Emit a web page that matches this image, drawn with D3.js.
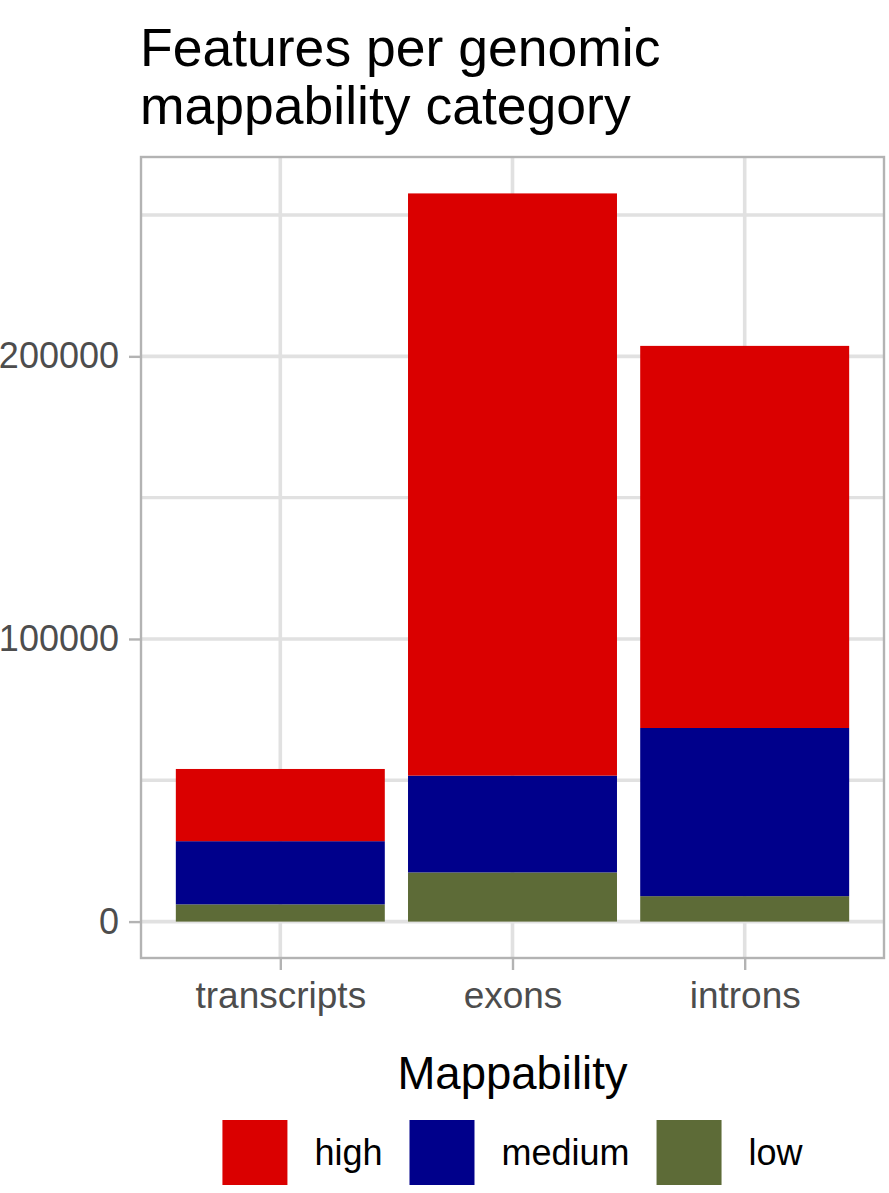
<!DOCTYPE html>
<html>
<head>
<meta charset="utf-8">
<script src="https://cdn.jsdelivr.net/npm/d3@7"></script>
<style>
  body { margin: 0; background: #ffffff; }
  svg text { font-family: "Liberation Sans", Arial, Helvetica, sans-serif; }
</style>
</head>
<body>
<div id="chart"></div>
<script>
// Data
var categories = ["transcripts", "exons", "introns"];
var lowValues = [6100, 17400, 9000];
var mediumValues = [22350, 34250, 59500];
var highValues = [25550, 206000, 135200];

var yTicks = [0, 100000, 200000];
var yMinorTicks = [50000, 150000, 250000];

var seriesKeys = ["low", "medium", "high"];
var legendKeys = ["high", "medium", "low"];
var colors = {high: "#da0000", medium: "#00008b", low: "#5d6b37"};

var width = 889, height = 1193;

// Panel bounds (ggplot theme_bw look)
var panel = {left: 141, right: 884, top: 157, bottom: 958};

var svg = d3.select("#chart")
            .append("svg")
            .attr("width", width)
            .attr("height", height);

// Build table for d3.stack
var table = categories.map(function(c, i) {
  return {category: c, low: lowValues[i], medium: mediumValues[i], high: highValues[i]};
});

var stacked = d3.stack().keys(seriesKeys)(table);

var maxTotal = d3.max(table, function(d) { return d.low + d.medium + d.high; });
var pad = maxTotal * 0.05;

// Scales
var xScale = d3.scaleLinear()
  .domain([0.4, categories.length + 0.6])
  .range([panel.left, panel.right]);

var yScale = d3.scaleLinear()
  .domain([-pad, maxTotal + pad])
  .range([panel.bottom, panel.top]);

var gridColor = "#e1e1e1";

// Minor gridlines
svg.append("g")
   .selectAll("line")
   .data(yMinorTicks)
   .enter()
   .append("line")
   .attr("x1", panel.left).attr("x2", panel.right)
   .attr("y1", function(d) { return yScale(d); })
   .attr("y2", function(d) { return yScale(d); })
   .style("stroke", gridColor)
   .style("stroke-width", 3.4);

// Major gridlines
svg.append("g")
   .selectAll("line")
   .data(yTicks)
   .enter()
   .append("line")
   .attr("x1", panel.left).attr("x2", panel.right)
   .attr("y1", function(d) { return yScale(d); })
   .attr("y2", function(d) { return yScale(d); })
   .style("stroke", gridColor)
   .style("stroke-width", 3.6);

svg.append("g")
   .selectAll("line")
   .data(categories)
   .enter()
   .append("line")
   .attr("x1", function(d, i) { return xScale(i + 1); })
   .attr("x2", function(d, i) { return xScale(i + 1); })
   .attr("y1", panel.top).attr("y2", panel.bottom)
   .style("stroke", gridColor)
   .style("stroke-width", 3.6);

// Bars
var barHalf = 0.45;
svg.append("g")
   .selectAll("g")
   .data(stacked)
   .enter()
   .append("g")
   .style("fill", function(d) { return colors[d.key]; })
   .selectAll("rect")
   .data(function(d) { return d; })
   .enter()
   .append("rect")
   .attr("x", function(d, i) { return xScale(i + 1 - barHalf); })
   .attr("width", function(d, i) { return xScale(i + 1 + barHalf) - xScale(i + 1 - barHalf); })
   .attr("y", function(d) { return yScale(d[1]); })
   .attr("height", function(d) { return yScale(d[0]) - yScale(d[1]); });

// Panel border
svg.append("rect")
   .attr("x", panel.left)
   .attr("y", panel.top)
   .attr("width", panel.right - panel.left)
   .attr("height", panel.bottom - panel.top)
   .style("fill", "none")
   .style("stroke", "#b3b3b3")
   .style("stroke-width", 2.4);

// Y axis
var yAxis = d3.axisLeft(yScale)
              .tickValues(yTicks)
              .tickSize(12)
              .tickPadding(10)
              .tickFormat(function(d) { return d; });

var yAxisGroup = svg.append("g")
   .attr("transform", "translate(" + panel.left + ",0)")
   .call(yAxis);

// X axis
var xAxis = d3.axisBottom(xScale)
              .tickValues(categories.map(function(d, i) { return i + 1; }))
              .tickSize(12)
              .tickPadding(12)
              .tickFormat(function(d) { return categories[d - 1]; });

var xAxisGroup = svg.append("g")
   .attr("transform", "translate(0," + panel.bottom + ")")
   .call(xAxis);

[yAxisGroup, xAxisGroup].forEach(function(g) {
  g.select(".domain").remove();
  g.selectAll(".tick line").style("stroke", "#b3b3b3").style("stroke-width", 2.4);
  g.selectAll(".tick text")
   .style("font-size", "37px")
   .style("fill", "#4d4d4d");
});
// y labels in the reference run off the left edge slightly
yAxisGroup.selectAll(".tick text").style("font-size", "36px");

// Title
var title = svg.append("text")
   .attr("x", panel.left - 1)
   .attr("y", 66)
   .style("font-size", "53.5px")
   .style("fill", "#000");
title.append("tspan").attr("x", panel.left - 1).text("Features per genomic");
title.append("tspan").attr("x", panel.left - 1).attr("dy", 58).text("mappability category");

// Legend
var panelMid = (panel.left + panel.right) / 2;

svg.append("text")
   .attr("x", panelMid)
   .attr("y", 1089)
   .attr("text-anchor", "middle")
   .style("font-size", "45.5px")
   .style("fill", "#000")
   .text("Mappability");

var keySize = 65, labelGap = 27, itemGap = 27;
var legend = svg.append("g");
var items = legend.selectAll("g")
   .data(legendKeys)
   .enter()
   .append("g");

items.append("rect")
   .attr("width", keySize)
   .attr("height", keySize)
   .style("fill", function(d) { return colors[d]; });

items.append("text")
   .attr("x", keySize + labelGap)
   .attr("y", keySize / 2)
   .attr("dy", "0.35em")
   .style("font-size", "36px")
   .style("fill", "#000")
   .text(function(d) { return d; });

var xPos = 0;
items.each(function() {
  var g = d3.select(this);
  var w = keySize + labelGap + g.select("text").node().getComputedTextLength();
  g.attr("transform", "translate(" + xPos + ",0)");
  xPos += w + itemGap;
});
var totalW = xPos - itemGap;
legend.attr("transform", "translate(" + (panelMid - totalW / 2) + ",1120)");
</script>
</body>
</html>
